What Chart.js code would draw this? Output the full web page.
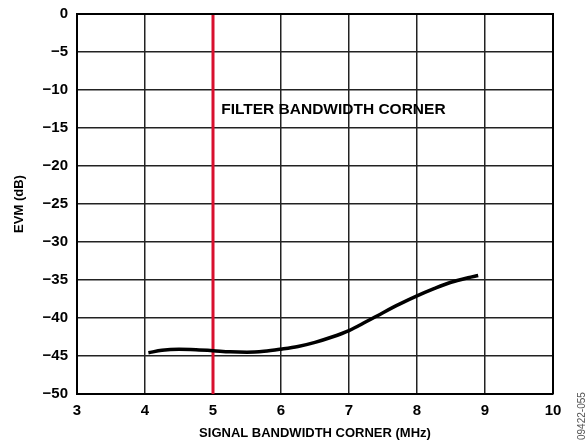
<!DOCTYPE html>
<html><head><meta charset="utf-8">
<script src="https://cdn.jsdelivr.net/npm/chart.js@4/dist/chart.umd.min.js"></script>
<style>html,body{margin:0;padding:0;background:#fff}#wrap{width:588px;height:441px}</style>
</head><body><div id="wrap"><canvas id="c" width="588" height="441"></canvas></div>
<script>
const bandwidthMHz = [4.05,4.25,4.5,4.75,5.0,5.25,5.5,5.75,6.0,6.25,6.5,6.75,7.0,7.25,7.5,7.75,8.0,8.25,8.5,8.75,8.9];
const evmDb =        [-44.57,-44.25,-44.12,-44.18,-44.3,-44.45,-44.5,-44.38,-44.1,-43.75,-43.2,-42.5,-41.65,-40.5,-39.3,-38.15,-37.1,-36.15,-35.3,-34.7,-34.4];
const filterCorner = [5, 5];
const filterCornerY = [0, -50];
const xTicks = [3,4,5,6,7,8,9,10];
const yTicks = [0,-5,-10,-15,-20,-25,-30,-35,-40,-45,-50];
const annotationText = "FILTER BANDWIDTH CORNER";
const figureId = "09422-055";

const FONT = "'Liberation Sans', Arial, sans-serif";

const textPlugin = {
  id: 'texts',
  afterDraw(chart) {
    const ctx = chart.ctx;
    const xs = chart.scales.x, ys = chart.scales.y;
    ctx.save();
    ctx.fillStyle = '#000';
    ctx.font = 'bold 15.5px ' + FONT;
    ctx.textBaseline = 'middle';
    ctx.textAlign = 'left';
    ctx.fillText(annotationText, xs.getPixelForValue(5.12), ys.getPixelForValue(-12.6));
    ctx.fillStyle = '#555';
    ctx.font = '10px ' + FONT;
    ctx.translate(585, 440);
    ctx.rotate(-Math.PI/2);
    ctx.textAlign = 'left';
    ctx.textBaseline = 'alphabetic';
    ctx.fillText(figureId, 0, 0);
    ctx.restore();
  }
};

new Chart(document.getElementById('c'), {
  type: 'scatter',
  data: {
    datasets: [
      { data: bandwidthMHz.map((x,i)=>({x, y: evmDb[i]})), showLine: true, borderColor: '#000', borderWidth: 3.5, pointRadius: 0, cubicInterpolationMode: 'monotone' },
      { data: filterCorner.map((x,i)=>({x, y: filterCornerY[i]})), showLine: true, borderColor: '#d8102e', borderWidth: 3, pointRadius: 0 }
    ]
  },
  options: {
    responsive: false, animation: false, devicePixelRatio: 1,
    layout: { padding: { top: 14, right: 35, left: 0, bottom: 0 } },
    plugins: { legend: { display: false }, tooltip: { enabled: false } },
    scales: {
      x: {
        type: 'linear', min: 3, max: 10,
        afterBuildTicks: s => { s.ticks = xTicks.map(v => ({ value: v })); },
        afterFit: s => { s.height = 47; s.paddingLeft = 0; s.paddingRight = 0; },
        grid: { color: '#222', lineWidth: 1.5, drawTicks: false },
        border: { color: '#000', width: 2 },
        ticks: { color: '#000', font: { family: FONT, weight: 'bold', size: 15 }, padding: 8, maxRotation: 0 },
        title: { display: true, text: 'SIGNAL BANDWIDTH CORNER (MHz)', color: '#000', font: { family: FONT, weight: 'bold', size: 13 }, padding: { top: 0, bottom: 0 } }
      },
      y: {
        type: 'linear', min: -50, max: 0,
        afterBuildTicks: s => { s.ticks = yTicks.map(v => ({ value: v })); },
        afterFit: s => { s.width = 77; s.paddingTop = 0; s.paddingBottom = 0; },
        grid: { color: '#222', lineWidth: 1.5, drawTicks: false },
        border: { color: '#000', width: 2 },
        ticks: { color: '#000', font: { family: FONT, weight: 'bold', size: 15 }, padding: 9, callback: v => String(v).replace('-', '\u2212') },
        title: { display: true, text: 'EVM (dB)', color: '#000', font: { family: FONT, weight: 'bold', size: 13 }, padding: { top: 12, bottom: 0 } }
      }
    }
  },
  plugins: [textPlugin, {
    id: 'rightTopBorder',
    afterDraw(chart) {
      const a = chart.chartArea, ctx = chart.ctx;
      ctx.save(); ctx.strokeStyle = '#000'; ctx.lineWidth = 2;
      ctx.beginPath(); ctx.moveTo(a.left, a.top); ctx.lineTo(a.right, a.top); ctx.lineTo(a.right, a.bottom); ctx.stroke();
      ctx.restore();
    }
  }]
});
</script></body></html>
